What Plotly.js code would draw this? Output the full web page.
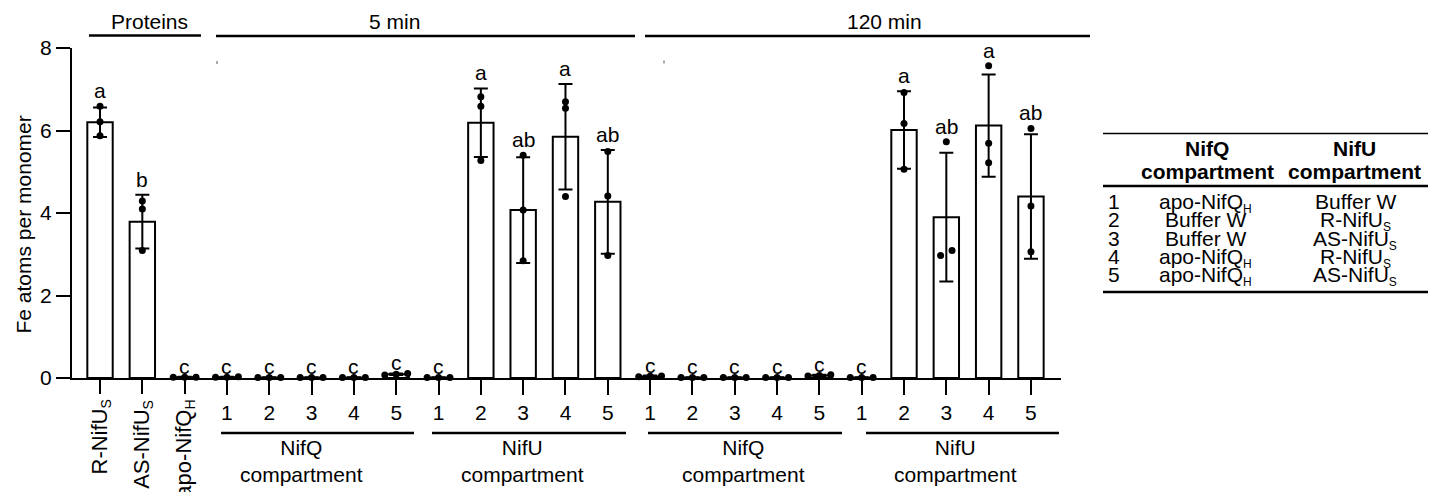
<!DOCTYPE html>
<html>
<head>
<meta charset="utf-8">
<script src="https://cdn.plot.ly/plotly-3.0.1.min.js"></script>
<style>html,body{margin:0;padding:0;background:#fff;}#chart{width:1449px;height:492px;}</style>
</head>
<body>
<div id="chart"></div>
<script>
// ---------- data ----------
const tickLabels = ["R-NifU<sub>S</sub>", "AS-NifU<sub>S</sub>", "apo-NifQ<sub>H</sub>",
  "1","2","3","4","5","1","2","3","4","5",
  "1","2","3","4","5","1","2","3","4","5"];
const means = [6.20, 3.79, 0.02,
  0.02, 0.01, 0.01, 0.01, 0.09, 0.01, 6.19, 4.07, 5.85, 4.27,
  0.04, 0.01, 0.01, 0.01, 0.06, 0.01, 6.01, 3.90, 6.12, 4.40];
const sds = [0.36, 0.65, 0.01,
  0.01, 0.01, 0.01, 0.01, 0.02, 0.01, 0.83, 1.28, 1.28, 1.26,
  0.02, 0.01, 0.01, 0.01, 0.02, 0.01, 0.94, 1.56, 1.24, 1.51];
const replicates = [
  [6.59, 6.21, 5.87], [4.29, 4.10, 3.09], [0.02, 0.02, 0.02],
  [0.02, 0.03, 0.02], [0.01, 0.01, 0.01], [0.01, 0.01, 0.01], [0.01, 0.01, 0.01],
  [0.07, 0.09, 0.11], [0.01, 0.01, 0.01],
  [6.82, 6.59, 5.27], [5.40, 4.07, 2.84], [6.70, 6.54, 4.40], [5.49, 4.41, 2.97],
  [0.05, 0.04, 0.03], [0.01, 0.01, 0.01], [0.01, 0.01, 0.01], [0.01, 0.01, 0.01],
  [0.05, 0.06, 0.08], [0.01, 0.01, 0.01],
  [6.92, 6.17, 5.06], [5.73, 3.09, 2.97], [7.57, 5.69, 5.22], [6.05, 4.17, 3.06]
];
const letters = ["a","b","c","c","c","c","c","c","c","a","ab","a","ab",
  "c","c","c","c","c","c","a","ab","a","ab"];
const groupTop = ["Proteins", "5 min", "120 min"];
const groupBottom = ["NifQ<br>compartment", "NifU<br>compartment", "NifQ<br>compartment", "NifU<br>compartment"];
const tableHeader1 = ["NifQ", "NifU"];
const tableHeader2 = ["compartment", "compartment"];
const tableNums = ["1","2","3","4","5"];
const tableNifQ = ["apo-NifQ<sub>H</sub>", "Buffer W", "Buffer W", "apo-NifQ<sub>H</sub>", "apo-NifQ<sub>H</sub>"];
const tableNifU = ["Buffer W", "R-NifU<sub>S</sub>", "AS-NifU<sub>S</sub>", "R-NifU<sub>S</sub>", "AS-NifU<sub>S</sub>"];
const yTitle = "Fe atoms per monomer";

// ---------- geometry ----------
const W = 1449, H = 492, L = 72, T = 48, PW = 989, PH = 330;
const px = X => (X - L) / PW;
const py = Y => (T + PH - Y) / PH;
const FONT = "Arial, 'Liberation Sans', sans-serif";
const FS = 21;
// smaller subscripts, as in the figure
const smallSub = (s, size) => s.replace(/<sub>(.*?)<\/sub>/g, '<sub><span style="font-size:' + size + 'px">$1</span></sub>');

const idx = means.map((_, i) => i);
const numbered = idx.filter(i => i >= 3);
const named = idx.filter(i => i < 3);

// spread overlapping replicate points horizontally
const ptX = [], ptY = [];
replicates.forEach((vals, i) => {
  const s = vals.slice().sort((a, b) => a - b);
  let groups = [[s[0]]];
  for (let k = 1; k < s.length; k++) {
    const g = groups[groups.length - 1];
    if (s[k] - g[g.length - 1] < 0.15) g.push(s[k]); else groups.push([s[k]]);
  }
  groups.forEach(g => {
    g.forEach((v, k) => {
      ptX.push(i + (k - (g.length - 1) / 2) * 0.27);
      ptY.push(v);
    });
  });
});

const bars = {
  type: 'bar', x: idx, y: means, width: 0.6,
  marker: {color: 'white', line: {color: 'black', width: 2}},
  error_y: {type: 'data', array: sds, visible: true, color: 'black', thickness: 2, width: 7},
  hoverinfo: 'y', showlegend: false
};
const pts = {
  type: 'scatter', mode: 'markers', x: ptX, y: ptY, cliponaxis: false,
  marker: {color: 'black', size: 7}, showlegend: false, hoverinfo: 'y'
};
// invisible helper trace so the second x axis (ticks of the named categories) is drawn
const helper = {
  type: 'scatter', mode: 'markers', x: named, y: named.map(() => 0), xaxis: 'x2',
  marker: {size: 1, opacity: 0}, showlegend: false, hoverinfo: 'skip'
};

const ann = [];
const txt = (o) => Object.assign({showarrow: false, font: {family: FONT, size: FS, color: 'black'}}, o);

// significance letters
letters.forEach((l, i) => {
  const top = Math.max(means[i] + sds[i], Math.max(...replicates[i]));
  ann.push(txt({text: l, x: i, xref: 'x', y: top, yref: 'y', xanchor: 'center', yanchor: 'bottom', yshift: top < 0.3 ? -3 : 2}));
});
// rotated labels for first 3 categories
named.forEach(i => {
  ann.push(txt({text: smallSub(tickLabels[i], 14), x: i, xref: 'x', y: 0, yref: 'y', textangle: -90,
    xanchor: 'center', yanchor: 'top', yshift: -20, font: {family: FONT, size: 22, color: 'black'}}));
});
// y title
ann.push(txt({text: yTitle, x: px(22.5), y: py(225), xref: 'paper', yref: 'paper', textangle: -90, xanchor: 'center', yanchor: 'middle'}));

// group headers (top)
const topTextX = [149, 394, 884];
groupTop.forEach((t, k) => ann.push(txt({text: t, x: px(topTextX[k]), y: py(21.5), xref: 'paper', yref: 'paper', xanchor: 'center', yanchor: 'middle'})));
// group labels (bottom)
const botTextX = [301, 522, 743, 955];
groupBottom.forEach((t, k) => ann.push(txt({text: t, x: px(botTextX[k]), y: py(433.5), xref: 'paper', yref: 'paper', xanchor: 'center', yanchor: 'top'})));

// table
const colX = [1207, 1354];
tableHeader1.forEach((t, k) => ann.push(txt({text: '<b>' + t + '</b>', x: px(colX[k]), y: py(148.5), xref: 'paper', yref: 'paper', xanchor: 'center', yanchor: 'middle'})));
tableHeader2.forEach((t, k) => ann.push(txt({text: '<b>' + t + '</b>', x: px(colX[k]), y: py(171), xref: 'paper', yref: 'paper', xanchor: 'center', yanchor: 'middle'})));
tableNums.forEach((t, r) => {
  const yy = py(188 + r * 18.3);
  ann.push(txt({text: t, x: px(1106), y: yy, xref: 'paper', yref: 'paper', xanchor: 'left', yanchor: 'top'}));
  ann.push(txt({text: smallSub(tableNifQ[r], 12), x: px(1205), y: yy, xref: 'paper', yref: 'paper', xanchor: 'center', yanchor: 'top'}));
  ann.push(txt({text: smallSub(tableNifU[r], 12), x: px(1355), y: yy, xref: 'paper', yref: 'paper', xanchor: 'center', yanchor: 'top'}));
});

const shapes = [];
const hline = (x0, x1, y, w) => shapes.push({type: 'line', xref: 'paper', yref: 'paper', x0: px(x0), x1: px(x1), y0: py(y), y1: py(y), line: {color: 'black', width: w}});
hline(89, 201, 35.5, 2.5); hline(216, 635, 36, 2.5); hline(645, 1090, 36, 2.5);
hline(221, 414, 433, 2.5); hline(432, 626, 433, 2.5); hline(648, 842, 433, 2.5); hline(866, 1059, 433, 2.5);
hline(1103, 1428, 133.5, 1.5); hline(1103, 1428, 186, 2.5); hline(1103, 1428, 292, 2.5);
[[217, 62.5], [664, 62]].forEach(([x, y]) => shapes.push({type: 'line', xref: 'paper', yref: 'paper', x0: px(x), x1: px(x), y0: py(y - 1.5), y1: py(y + 1.5), line: {color: '#555', width: 1}}));

const axisStyle = {
  ticks: 'outside', ticklen: 15, tickwidth: 2, tickcolor: 'black',
  showgrid: false, zeroline: false, fixedrange: true,
  tickfont: {family: FONT, size: FS, color: 'black'}
};
const RANGE = [-0.662, 22.71];
const layout = {
  width: W, height: H,
  margin: {l: L, r: W - L - PW, t: T, b: H - T - PH, pad: 0},
  paper_bgcolor: 'white', plot_bgcolor: 'white',
  font: {family: FONT, size: FS, color: 'black'},
  showlegend: false, bargap: 0.4,
  xaxis: Object.assign({}, axisStyle, {
    range: RANGE, tickmode: 'array', tickvals: numbered,
    ticktext: numbered.map(i => tickLabels[i]),
    showline: true, linewidth: 2, linecolor: 'black'
  }),
  xaxis2: Object.assign({}, axisStyle, {
    range: RANGE, overlaying: 'x', anchor: 'y', side: 'bottom',
    tickmode: 'array', tickvals: named, showticklabels: false, showline: false
  }),
  yaxis: Object.assign({}, axisStyle, {
    range: [0, 8], tickmode: 'array', tickvals: [0, 2, 4, 6, 8], ticklen: 14,
    showline: true, linewidth: 2, linecolor: 'black'
  }),
  annotations: ann, shapes: shapes
};

Plotly.newPlot('chart', [bars, pts, helper], layout, {displayModeBar: false, staticPlot: true});
</script>
</body>
</html>
